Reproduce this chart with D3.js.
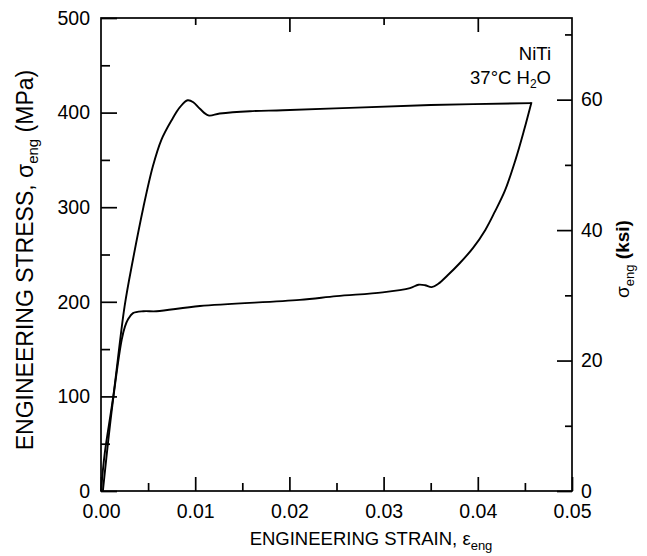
<!DOCTYPE html>
<html>
<head>
<meta charset="utf-8">
<script src="https://cdn.jsdelivr.net/npm/d3@7"></script>
<style>
  body { margin: 0; background: #fff; }
  svg text { font-family: "Liberation Sans", Arial, sans-serif; fill: #000; }
</style>
</head>
<body>
<div id="chart"></div>
<script>
// loading branch (strain, MPa)
const loadStrain = [0, 0.0004, 0.0013, 0.0025, 0.0034, 0.0045, 0.0055, 0.0064, 0.0075, 0.0084, 0.0092, 0.0098, 0.0105, 0.0114, 0.0126, 0.0158, 0.0193, 0.0264, 0.035, 0.0457];
const loadStress = [0, 40, 100, 195, 245, 300, 343, 371, 392, 406, 413, 411, 404, 397, 399, 401.5, 402.5, 405, 408, 410];
// unloading branch
const unloadStrain = [0.0457, 0.0449, 0.044, 0.0429, 0.0418, 0.0408, 0.0395, 0.0381, 0.0368, 0.0358, 0.0351, 0.0344, 0.0337, 0.0328, 0.0299, 0.025, 0.0211, 0.0105, 0.0059, 0.0045, 0.0034, 0.0029, 0.00255, 0.0022, 0.0012, 0.0002];
const unloadStress = [411, 381, 350, 318, 295, 276, 257, 241, 228, 219, 215.5, 217.5, 218, 214.5, 210, 206, 202, 195.5, 190, 190, 188, 182, 174, 160, 90, 0];

const xTicks = [0, 0.01, 0.02, 0.03, 0.04, 0.05];
const xMinor = [0.005, 0.015, 0.025, 0.035, 0.045];
const yTicks = [0, 100, 200, 300, 400, 500];
const yMinor = [50, 150, 250, 350, 450];
const ksiTicks = [0, 20, 40, 60];
const ksiMinor = [10, 30, 50, 70];
const topMajor = [0.02, 0.04];
const topMinor = [0.01, 0.03];

const width = 647, height = 556;
const m = { left: 101, right: 572, top: 18, bottom: 491 };
const MPA_PER_KSI = 6.894757;

const svg = d3.select("#chart")
  .append("svg")
  .attr("width", width)
  .attr("height", height);

const x = d3.scaleLinear().domain([0, 0.05]).range([m.left, m.right]);
const y = d3.scaleLinear().domain([0, 500]).range([m.bottom, m.top]);
const yKsi = d3.scaleLinear().domain([0, 500 / MPA_PER_KSI]).range([m.bottom, m.top]);

function styleAxis(g) {
  g.select(".domain").remove();
  g.selectAll("line").attr("stroke", "#000").attr("stroke-width", 1.7);
  g.selectAll("text").attr("font-size", 19.5).attr("fill", "#000")
    .attr("font-family", '"Liberation Sans", Arial, sans-serif');
}

// bottom axis
svg.append("g").attr("transform", `translate(0,${m.bottom})`)
  .call(d3.axisBottom(x).tickValues(xTicks).tickSize(-14).tickPadding(13).tickFormat(d3.format(".2f")))
  .call(styleAxis);
svg.append("g").attr("transform", `translate(0,${m.bottom})`)
  .call(d3.axisBottom(x).tickValues(xMinor).tickSize(-8).tickFormat(""))
  .call(styleAxis);

// top axis (ticks only)
svg.append("g").attr("transform", `translate(0,${m.top})`)
  .call(d3.axisTop(x).tickValues(topMajor).tickSize(-14).tickFormat(""))
  .call(styleAxis);
svg.append("g").attr("transform", `translate(0,${m.top})`)
  .call(d3.axisTop(x).tickValues(topMinor).tickSize(-7).tickFormat(""))
  .call(styleAxis);

// left axis
svg.append("g").attr("transform", `translate(${m.left},0)`)
  .call(d3.axisLeft(y).tickValues(yTicks).tickSize(-16).tickPadding(11))
  .call(styleAxis);
svg.append("g").attr("transform", `translate(${m.left},0)`)
  .call(d3.axisLeft(y).tickValues(yMinor).tickSize(-9).tickFormat(""))
  .call(styleAxis);

// right axis (ksi)
svg.append("g").attr("transform", `translate(${m.right},0)`)
  .call(d3.axisRight(yKsi).tickValues(ksiTicks).tickSize(-15).tickPadding(9))
  .call(styleAxis);
svg.append("g").attr("transform", `translate(${m.right},0)`)
  .call(d3.axisRight(yKsi).tickValues(ksiMinor).tickSize(-7).tickFormat(""))
  .call(styleAxis);

// frame
svg.append("rect")
  .attr("x", m.left).attr("y", m.top)
  .attr("width", m.right - m.left).attr("height", m.bottom - m.top)
  .attr("fill", "none").attr("stroke", "#000").attr("stroke-width", 1.7);

// curves
const line = d3.line()
  .x(d => x(d[0]))
  .y(d => y(d[1]))
  .curve(d3.curveCatmullRom.alpha(0.5));

const loadData = loadStrain.map((s, i) => [s, loadStress[i]]);
const unloadData = unloadStrain.map((s, i) => [s, unloadStress[i]]);

svg.append("path").datum(loadData)
  .attr("d", line).attr("fill", "none")
  .attr("stroke", "#000").attr("stroke-width", 1.9);
svg.append("path").datum(unloadData)
  .attr("d", line).attr("fill", "none")
  .attr("stroke", "#000").attr("stroke-width", 1.9);

// axis titles
const xTitle = svg.append("text")
  .attr("x", 371).attr("y", 545)
  .attr("text-anchor", "middle")
  .attr("font-size", 18.5);
xTitle.append("tspan").text("ENGINEERING STRAIN, ε");
xTitle.append("tspan").attr("font-size", 13).attr("dy", 5).text("eng");

const yTitle = svg.append("text")
  .attr("transform", "translate(33,260) rotate(-90)")
  .attr("text-anchor", "middle")
  .attr("font-size", 23);
yTitle.append("tspan").text("ENGINEERING STRESS, σ");
yTitle.append("tspan").attr("font-size", 15).attr("dy", 5).text("eng");
yTitle.append("tspan").attr("dy", -5).text(" (MPa)");

const rTitle = svg.append("text")
  .attr("transform", "translate(629,259) rotate(-90)")
  .attr("text-anchor", "middle")
  .attr("font-size", 19);
rTitle.append("tspan").text("σ");
rTitle.append("tspan").attr("font-size", 13).attr("dy", 5).text("eng");
rTitle.append("tspan").attr("dy", -5).attr("font-weight", "bold").text(" (ksi)");

// annotation
svg.append("text")
  .attr("x", 551).attr("y", 60)
  .attr("text-anchor", "end")
  .attr("font-size", 18.5)
  .text("NiTi");
const note = svg.append("text")
  .attr("x", 551).attr("y", 84)
  .attr("text-anchor", "end")
  .attr("font-size", 18.5);
note.append("tspan").text("37°C H");
note.append("tspan").attr("font-size", 12).attr("dy", 4).text("2");
note.append("tspan").attr("dy", -4).text("O");
</script>
</body>
</html>
